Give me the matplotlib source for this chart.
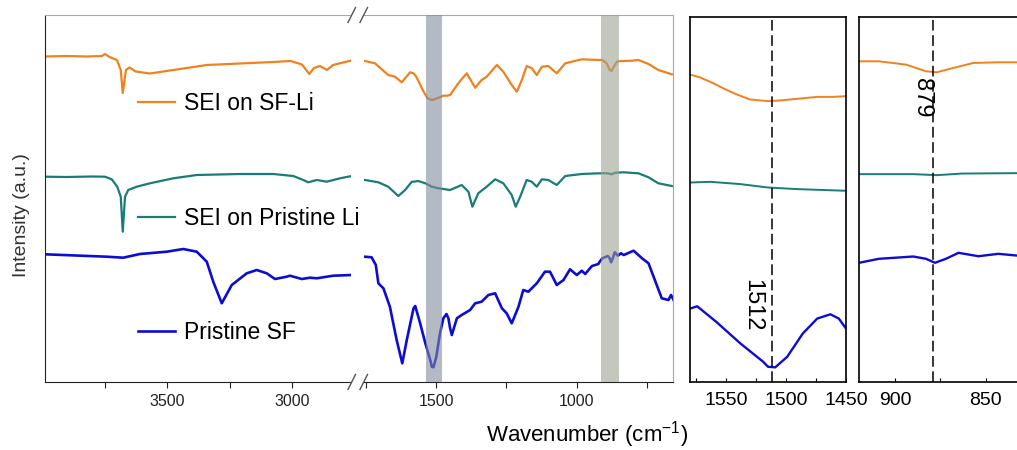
import matplotlib.pyplot as plt
from matplotlib.lines import Line2D
from matplotlib.ticker import MultipleLocator

plt.rcParams["font.family"] = ["Liberation Sans", "DejaVu Sans"]
plt.rcParams["mathtext.default"] = "regular"

# FTIR spectra, intensity in arbitrary units (stacked with offsets)
sf_li_wn = [3988, 3900, 3820, 3760, 3748, 3730, 3700, 3685, 3677, 3670, 3664, 3650, 3625,
            3568, 3475, 3340, 3210, 3075, 3005, 2960, 2931, 2912, 2888, 2860, 2836, 2796, 2762,
            1752, 1717, 1670, 1646, 1622, 1592, 1580, 1572, 1561, 1552, 1541, 1530, 1515, 1505,
            1491, 1474, 1461, 1450, 1421, 1391, 1361, 1338, 1320, 1284, 1261, 1231, 1213, 1195,
            1178, 1160, 1142, 1124, 1101, 1071, 1041, 982, 920, 909, 894, 883, 877, 868, 857,
            844, 833, 804, 781, 745, 710, 662]
sf_li_int = [343.5, 344, 343.5, 344, 346, 343, 340, 330, 307, 320, 330, 332.5, 328.5,
             326.5, 330, 335, 336.5, 338, 339, 335.5, 326, 332, 334, 330, 335, 337.5, 339.5,
             339, 336.7, 325, 323.3, 317.7, 327.7, 326.7, 324, 318.3, 312.7, 306.7, 301.7, 300, 300.7,
             302.3, 304.3, 304.3, 305, 316.7, 326.7, 312.3, 320, 323.3, 335, 328.3, 315, 308.3, 320,
             334, 331.7, 325, 333.3, 334, 326.7, 336.7, 340.7, 340, 340, 336.7, 330, 329, 333.3, 338.3,
             339, 339, 339.3, 340, 336, 330, 325.7]

pristine_li_wn = [3988, 3900, 3800, 3748, 3721, 3699, 3685, 3677, 3668, 3655, 3621, 3568, 3475,
                  3381, 3208, 3075, 2995, 2955, 2935, 2901, 2861, 2808, 2761,
                  1752, 1705, 1670, 1634, 1610, 1586, 1580, 1563, 1538, 1515, 1491, 1450, 1409,
                  1385, 1371, 1350, 1320, 1290, 1261, 1231, 1217, 1201, 1178, 1160, 1142, 1124,
                  1101, 1071, 1041, 982, 920, 890, 877, 863, 833, 781, 745, 710, 662]
pristine_li_int = [223.3, 223, 223.5, 223.3, 220.7, 213.3, 203.3, 168.3, 203.3, 210, 213.3, 216.7, 221.7,
                   225, 226, 226, 224, 220, 217.7, 220, 218.3, 221.7, 224,
                   220, 217.7, 213.3, 204, 210, 218.3, 218.3, 219, 216.7, 213.3, 211.7, 210, 215,
                   208.3, 193.3, 206.7, 213.3, 220.7, 216.7, 205, 193.3, 203.3, 220, 218.3, 213.3, 220.7,
                   220, 215, 224, 226, 226.7, 226.7, 225.7, 227.3, 227.7, 226.7, 222.7, 216.7, 214]

pristine_sf_wn = [3988, 3741, 3675, 3608, 3501, 3435, 3381, 3341, 3315, 3281, 3241, 3181, 3141,
                  3101, 3068, 3021, 3008, 2961, 2928, 2901, 2835, 2761,
                  1752, 1729, 1714, 1705, 1687, 1664, 1640, 1620, 1604, 1580, 1574, 1558, 1538,
                  1519, 1515, 1509, 1499, 1486, 1474, 1463, 1456, 1450, 1444, 1426, 1409, 1379,
                  1361, 1338, 1314, 1290, 1266, 1249, 1231, 1207, 1190, 1172, 1142, 1113, 1095,
                  1071, 1047, 1024, 1000, 982, 970, 946, 923, 920, 909, 890, 883, 878, 872, 865,
                  854, 843, 833, 798, 768, 745, 727, 698, 674, 665, 656]
pristine_sf_int = [145.7, 143.3, 142.3, 146, 148.3, 151, 148.3, 138.3, 118.3, 96.7, 115, 126.7, 130,
                   126.7, 121, 123.3, 124.3, 121, 122.3, 121.7, 124.3, 125,
                   143.3, 142.7, 135, 116.7, 111.7, 93.3, 60, 36.7, 60, 91.7, 94, 78.3, 56.7,
                   38.3, 33.3, 32.7, 43.3, 66.7, 81.7, 86, 81.7, 71.7, 65, 81.7, 85, 90,
                   96.7, 98.3, 105, 106.7, 91.7, 86.7, 76.7, 93.3, 110, 108.3, 116.7, 128.3, 128.3,
                   115, 120, 130.7, 125, 129.3, 126, 134, 136, 137.7, 141.7, 144, 141.7, 137.7, 141.7, 147.7,
                   144.3, 146.7, 145, 149.3, 141.7, 136.7, 123.3, 101.7, 100, 105, 100]

labels = ["SEI on SF-Li", "SEI on Pristine Li", "Pristine SF"]
colors = ["#F0821E", "#187C78", "#0C0CD2"]
widths = [1.6, 1.6, 1.9]
marked_peaks = [1512, 879]

W, H = 1017, 450
fig = plt.figure(figsize=(W / 100, H / 100), dpi=100)


def px_axes(x0, x1, y0, y1):
    return fig.add_axes([x0 / W, 1 - y1 / H, (x1 - x0) / W, (y1 - y0) / H])


ax_hi = px_axes(45, 351, 15, 382)
ax_lo = px_axes(364, 673, 15, 382)
ax_z1 = px_axes(690, 846, 16.5, 382)
ax_z2 = px_axes(859, 1040, 16.5, 382)

spectra = [(sf_li_wn, sf_li_int), (pristine_li_wn, pristine_li_int),
           (pristine_sf_wn, pristine_sf_int)]

for ax in (ax_hi, ax_lo, ax_z1, ax_z2):
    main = ax in (ax_hi, ax_lo)
    for (wn, inten), lab, c, lw in zip(spectra, labels, colors, widths):
        ax.plot(wn, inten, color=c, lw=lw if main else lw - 0.2, label=lab,
                solid_joinstyle="round")
    ax.set_ylim(18, 385)
    ax.set_yticks([])
    if main:
        ax.tick_params(axis="x", which="both", direction="out", length=4, width=0.8,
                       labelsize=11.5, pad=5, colors="#222222")
        ax.spines["top"].set_color("#a8a8a8")
        ax.spines["right"].set_color("#a8a8a8")
        ax.spines["left"].set_color("#222222")
        ax.spines["bottom"].set_color("#222222")
        ax.xaxis.set_major_locator(MultipleLocator(500))
        ax.xaxis.set_minor_locator(MultipleLocator(250))
    else:
        for s in ax.spines.values():
            s.set_color("black")
            s.set_linewidth(1.2)
        ax.tick_params(axis="x", which="both", direction="in", length=3, width=0.8,
                       labelsize=14, pad=7)
        ax.xaxis.set_major_locator(MultipleLocator(50))
        ax.xaxis.set_minor_locator(MultipleLocator(25))

ax_hi.set_xlim(3988, 2764)
ax_lo.set_xlim(1756, 658)
ax_z1.set_xlim(1580, 1450)
ax_z2.set_xlim(920, 820)
ax_hi.spines["right"].set_visible(False)
ax_lo.spines["left"].set_visible(False)

# highlighted bands in the fingerprint region
ax_lo.axvspan(1537, 1480, color="#828C9E", alpha=0.6, lw=0, zorder=3)
ax_lo.axvspan(914, 851, color="#9DA294", alpha=0.6, lw=0, zorder=3)

# zoomed views with the marked peaks
for ax, peak in zip((ax_z1, ax_z2), marked_peaks):
    ax.axvline(peak, color="black", lw=1.1, ls=(0, (7, 3)))
fig.text(752 / W, 1 - 305 / H, str(marked_peaks[0]), rotation=270, fontsize=17,
         ha="center", va="center")
fig.text(922 / W, 1 - 98 / H, str(marked_peaks[1]), rotation=270, fontsize=17,
         ha="center", va="center")

# axis break marks
for y0 in (15, 382):
    for x0 in (348, 360):
        fig.add_artist(Line2D([x0 / W, (x0 + 7.5) / W],
                              [1 - (y0 + 7.5) / H, 1 - (y0 - 7.5) / H],
                              color="#555555", lw=1))

ax_hi.legend(loc="upper left", bbox_to_anchor=(138 / W, 1 - 92 / H),
             bbox_transform=fig.transFigure, frameon=False, fontsize=16.5,
             handlelength=1.6, handletextpad=0.4, labelspacing=4.0,
             borderpad=0, borderaxespad=0)

fig.text(22 / W, 1 - 215 / H, "Intensity (a.u.)", rotation=90, fontsize=14,
         ha="center", va="center", color="#333333")
fig.text(587 / W, 1 - 435 / H, "Wavenumber (cm$^{-1}$)", fontsize=16,
         ha="center", va="center")

fig.savefig("out.png", dpi=100)
